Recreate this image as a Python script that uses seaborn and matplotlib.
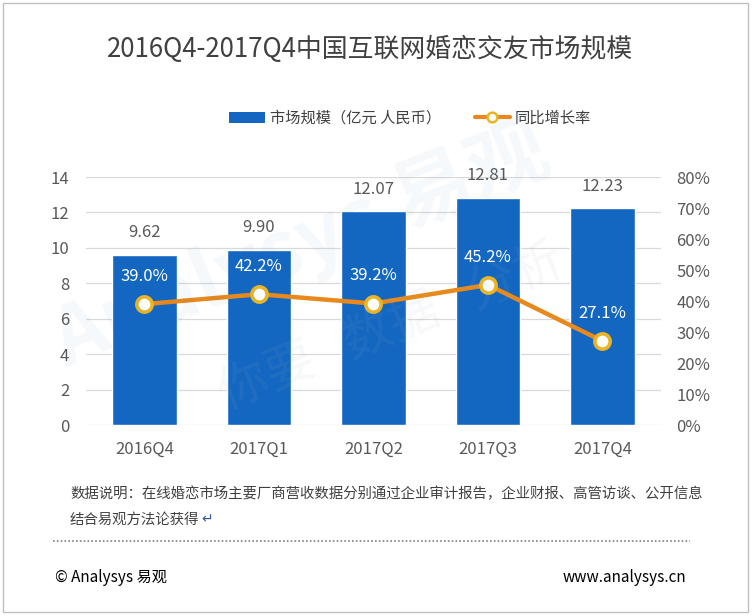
import matplotlib
matplotlib.use("Agg")
import matplotlib.pyplot as plt
from matplotlib.lines import Line2D
from matplotlib.patches import Patch, Rectangle
from matplotlib.ticker import FuncFormatter, MultipleLocator
import numpy as np
import seaborn as sns

# ---- data ----
quarters = ["2016Q4", "2017Q1", "2017Q2", "2017Q3", "2017Q4"]
market_size = [9.62, 9.90, 12.07, 12.81, 12.23]      # 亿元
growth_rate = [0.390, 0.422, 0.392, 0.452, 0.271]     # 同比增长率

TITLE = "2016Q4-2017Q4中国互联网婚恋交友市场规模"
BAR_LABEL = "市场规模（亿元 人民币）"
LINE_LABEL = "同比增长率"
NOTE_1 = "数据说明：在线婚恋市场主要厂商营收数据分别通过企业审计报告，企业财报、高管访谈、公开信息"
NOTE_2 = "结合易观方法论获得"

BAR_COLOR = "#1467C1"
LINE_COLOR = "#E8891D"
MARKER_EDGE = "#E9B526"
TEXT_GRAY = "#595959"
GRID_COLOR = "#D9D9D9"

sns.set_style("white")
plt.rcParams["font.family"] = ["Noto Sans CJK SC", "DejaVu Sans"]

fig = plt.figure(figsize=(7.53, 6.16), dpi=100)
ax = fig.add_axes([0.1142, 0.310, 0.7636, 0.4026])

# faint watermark behind the plot
fig.text(0.40, 0.60, "Analysys 易观", fontsize=58, color=BAR_COLOR, alpha=0.04,
         rotation=22, ha="center", va="center", fontweight="bold", zorder=0)
fig.text(0.52, 0.47, "你要   数据   分析", fontsize=36, color="#9AAFC8", alpha=0.09,
         rotation=22, ha="center", va="center", zorder=0)

sns.barplot(x=quarters, y=market_size, color=BAR_COLOR, width=0.565,
            saturation=1, ax=ax, zorder=3)
ax.set_ylim(0, 14)
ax.yaxis.set_major_locator(MultipleLocator(2))
ax.grid(axis="y", color=GRID_COLOR, linewidth=0.9, zorder=0)
ax.set_axisbelow(True)
for side in ["top", "right", "left", "bottom"]:
    ax.spines[side].set_visible(False)
ax.set_xlabel("")
ax.set_ylabel("")
ax.tick_params(axis="y", length=0, pad=12, labelsize=12, labelcolor=TEXT_GRAY)
ax.tick_params(axis="x", length=0, pad=11, labelsize=12, labelcolor=TEXT_GRAY)
ax.patch.set_alpha(0)

for i, v in enumerate(market_size):
    ax.annotate(f"{v:.2f}", xy=(i, v), xytext=(0, 16), textcoords="offset points",
                ha="center", va="center", fontsize=12, color=TEXT_GRAY)

ax2 = ax.twinx()
positions = np.arange(len(quarters))
sns.lineplot(x=positions, y=growth_rate, ax=ax2, color=LINE_COLOR, linewidth=3.2,
             marker="o", markersize=11, markerfacecolor="white",
             markeredgecolor=MARKER_EDGE, markeredgewidth=2.6, zorder=5)
ax2.set_ylim(0, 0.8)
ax2.yaxis.set_major_locator(MultipleLocator(0.1))
ax2.yaxis.set_major_formatter(FuncFormatter(lambda v, _: f"{v * 100:.0f}%"))
ax2.tick_params(axis="y", length=0, pad=11, labelsize=12, labelcolor=TEXT_GRAY)
for side in ["top", "right", "left", "bottom"]:
    ax2.spines[side].set_visible(False)
ax2.set_ylabel("")
ax2.set_xlim(ax.get_xlim())

for i, g in enumerate(growth_rate):
    ax2.annotate(f"{g * 100:.1f}%", xy=(i, g), xytext=(0, 20), textcoords="offset points",
                 ha="center", va="center", fontsize=12, color="white")

# legend above the plot
handles = [
    Patch(facecolor=BAR_COLOR, edgecolor="none"),
    Line2D([0], [0], color=LINE_COLOR, linewidth=3, marker="o", markersize=7,
           markerfacecolor="white", markeredgecolor=MARKER_EDGE, markeredgewidth=1.8),
]
fig.legend(handles, [BAR_LABEL, LINE_LABEL], loc="center", bbox_to_anchor=(0.545, 0.808),
           ncol=2, frameon=False, fontsize=11, handlelength=2.3, handletextpad=0.35,
           columnspacing=2.2, labelcolor="#404040")

fig.text(0.491, 0.919, TITLE, ha="center", va="center", fontsize=18.6, color="#404040")

# footnote and footer
fig.text(0.093, 0.198, NOTE_1, ha="left", va="center", fontsize=10.4, color="#404040")
note2 = fig.text(0.093, 0.157, NOTE_2, ha="left", va="center", fontsize=10.4, color="#404040")
# the little return mark sits right after the second note line
fig.canvas.draw()
bb = note2.get_window_extent().transformed(fig.transFigure.inverted())
fig.text(bb.x1 + 0.002, 0.157, "↵", ha="left", va="center", fontsize=10,
         color="#2F5597", family=["DejaVu Sans"])
fig.add_artist(Line2D([0.070, 0.916], [0.122, 0.122], transform=fig.transFigure,
                      color="#7F7F7F", linewidth=1.2, linestyle=(0, (1, 1.3))))
fig.text(0.073, 0.063, "© Analysys 易观", ha="left", va="center", fontsize=11, color="black")
fig.text(0.911, 0.063, "www.analysys.cn", ha="right", va="center", fontsize=11, color="black")

fig.add_artist(Rectangle((3 / 753, 4 / 616), 745 / 753, 609 / 616, transform=fig.transFigure,
                         fill=False, edgecolor="#BFBFBF", linewidth=1))

fig.savefig("out.png", dpi=100)
